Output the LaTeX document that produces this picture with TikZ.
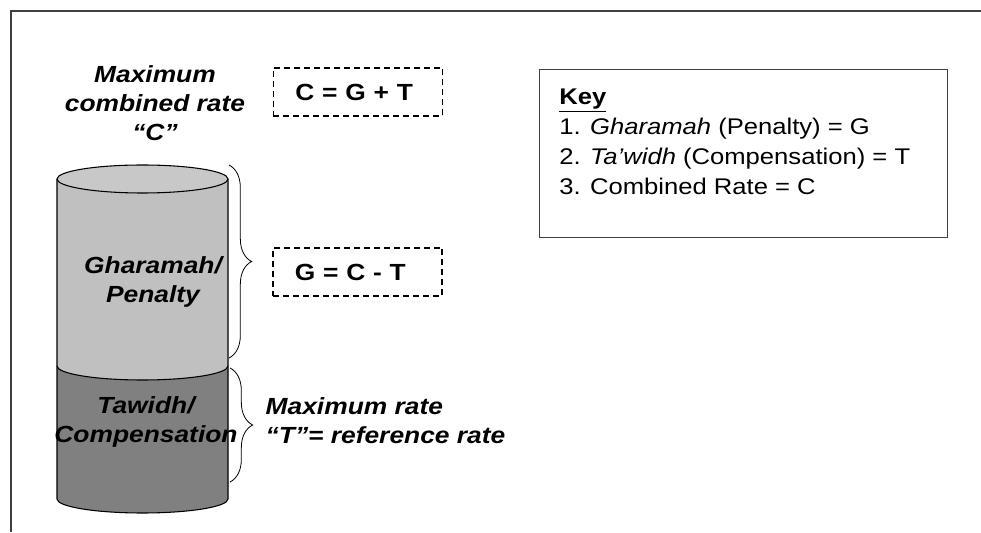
\documentclass[tikz,border=0pt]{standalone}
\usepackage{fontspec}
\setmainfont{Liberation Sans}[FakeStretch=1.13]
\usetikzlibrary{decorations.pathreplacing}
\definecolor{upperfill}{HTML}{C0C0C0}
\definecolor{topfill}{HTML}{C8C8C8}
\definecolor{lowerfill}{HTML}{808080}
\definecolor{framegray}{HTML}{404040}

\begin{document}
\begin{tikzpicture}[x=0.75pt, y=0.75pt,
    labeltext/.style={font=\fontsize{17.5}{21.75}\selectfont\bfseries\itshape, align=center},
    eqbox/.style={draw, dash pattern=on 4.5pt off 3pt, line width=1.1pt, font=\fontsize{17.5}{21}\selectfont\bfseries,
      text width=94pt, inner xsep=16.5pt, minimum height=36pt, align=left},
    ratebrace/.style={decorate, decoration={brace, amplitude=17pt}, line width=0.6pt}]
  \useasboundingbox (0,0) rectangle (981,532);
  \draw[framegray, line width=1.2pt] (11,0) -- (11,521) -- (981,521);

  \fill[upperfill] (57,353) -- (57,166) arc[start angle=180, end angle=360, x radius=85.5, y radius=14] -- (228,353) -- cycle;
  \fill[lowerfill] (57,166) -- (57,33) arc[start angle=180, end angle=360, x radius=85.5, y radius=14]
    -- (228,166) arc[start angle=360, end angle=180, x radius=85.5, y radius=14] -- cycle;
  \draw[line width=0.8pt] (57,353) -- (57,33) arc[start angle=180, end angle=360, x radius=85.5, y radius=14] -- (228,353);
  \draw[line width=0.8pt] (57,166) arc[start angle=180, end angle=360, x radius=85.5, y radius=14];
  \draw[line width=0.8pt, fill=topfill] (142.5,353) ellipse[x radius=85.5, y radius=14];

  \node[labeltext] (cmax) at (155,429) {Maximum\\combined rate\\“C”};
  \node[labeltext] (penalty) at (153,250) {Gharamah/\\Penalty};
  \node[labeltext] (compensation) at (146,110) {Tawidh/\\Compensation};
  \node[labeltext, align=left, anchor=west] (maxrate) at (261,111) {Maximum rate\\“T”= reference rate};

  \node[eqbox] (cgt) at (358,440) {C = G + T};
  \node[eqbox] (gct) at (357.5,260) {G = C - T};

  \coordinate (gtop) at (229,367);
  \coordinate (gbot) at (229,174);
  \coordinate (ttop) at (230,164);
  \coordinate (tbot) at (230,50);
  \draw[ratebrace] (gtop) -- (gbot);
  \draw[ratebrace] (ttop) -- (tbot);

  \node[draw=framegray, line width=0.8pt, minimum width=306pt, minimum height=126pt, anchor=north west] (keybox) at (539,463) {};
  \node[anchor=north west, align=left, inner sep=0pt, font=\fontsize{17}{22.5}\selectfont] (keytext)
    at ([xshift=15pt, yshift=-15pt]keybox.north west)
    {\underline{\textbf{Key}}\\1. \textit{Gharamah} (Penalty) = G\\2. \textit{Ta’widh} (Compensation) = T\\3. Combined Rate = C};
\end{tikzpicture}
\end{document}
